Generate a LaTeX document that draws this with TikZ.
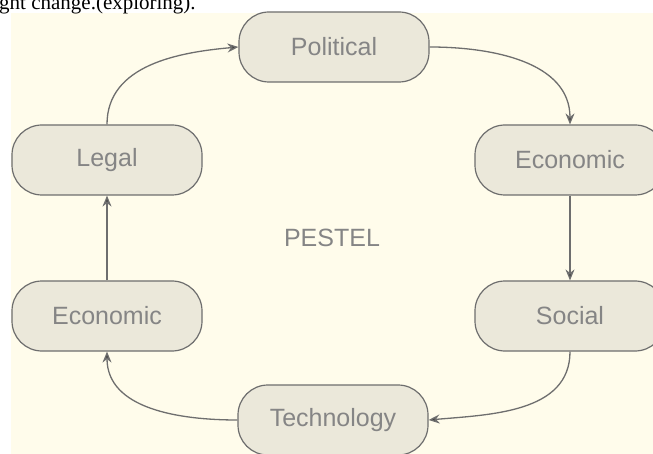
\documentclass[tikz,border=0pt]{standalone}
\usepackage{fontspec}
\setmainfont{Liberation Sans}
\newfontfamily\serifnote{Liberation Serif}
\usetikzlibrary{arrows.meta}
\definecolor{cream}{HTML}{FFFCEB}
\definecolor{boxfill}{HTML}{EBE8DA}
\definecolor{boxline}{HTML}{6E6E6E}
\definecolor{boxtext}{HTML}{858585}
\begin{document}
\begin{tikzpicture}[
        x=1pt, y=-1pt,
        factor/.style={draw=boxline, fill=boxfill, line width=1.2pt, rounded corners=30pt,
            minimum width=190pt, minimum height=70pt, inner sep=0pt,
            text=boxtext, font=\fontsize{25}{30}\selectfont}, % pill shaped boxes
        flow/.style={draw=boxline, line width=1.3pt,
            -{Stealth[length=11pt,width=9pt,fill=black!75]}}
    ]
    \useasboundingbox (0,0) rectangle (653,454);
    \fill[white] (0,0) rectangle (653,454);
    \fill[cream] (11,13) rectangle (653,454);
    \node[anchor=base west, inner sep=0pt, font=\serifnote\fontsize{21}{25}\selectfont] (note) at (-1,9.5) {ght change.(exploring).};

    \node[factor] (pol) at (334,47) {Political};
    \node[factor] (ecoR) at (570,160) {Economic};
    \node[factor] (social) at (570,316) {Social};
    \node[factor] (tech) at (333,420) {Technology};
    \node[factor] (ecoL) at (107,316) {Economic};
    \node[factor] (legal) at (107,160) {Legal};
    \node[text=boxtext, font=\fontsize{25}{30}\selectfont] (pestel) at (332,238) {PESTEL};

    \draw[flow] (legal.north) to[out=90, in=185] (pol.west);
    \draw[flow] (pol.east) to[out=0, in=90] (ecoR.north);
    \draw[flow] (ecoR.south) -- (social.north);
    \draw[flow] (social.south) to[out=-90, in=5] (tech.east);
    \draw[flow] (tech.west) to[out=180, in=-90] (ecoL.south);
    \draw[flow] (ecoL.north) -- (legal.south);
\end{tikzpicture}
\end{document}
